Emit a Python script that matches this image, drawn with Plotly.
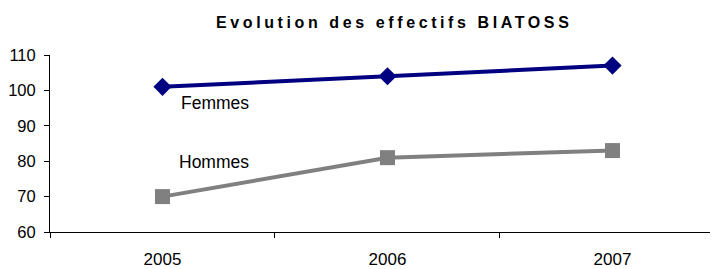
import plotly.graph_objects as go

years = ["2005", "2006", "2007"]
femmes = [101, 104, 107]
hommes = [70, 81, 83]
y_ticks = [60, 70, 80, 90, 100, 110]
title_text = "Evolution des effectifs BIATOSS"

FONT = "Liberation Sans, Arial, sans-serif"

fig = go.Figure()
fig.add_trace(go.Scatter(
    x=years, y=femmes, name="Femmes", mode="lines+markers",
    line=dict(color="#000080", width=4),
    marker=dict(symbol="diamond", size=14, color="#000080"),
))
fig.add_trace(go.Scatter(
    x=years, y=hommes, name="Hommes", mode="lines+markers",
    line=dict(color="#808080", width=4),
    marker=dict(symbol="square", size=15, color="#808080"),
))

fig.add_annotation(x=0, y=femmes[0], xref="x", yref="y", text="Femmes",
                   showarrow=False, xanchor="left", yanchor="middle",
                   xshift=16, yshift=-16, font=dict(family=FONT, size=17.5, color="#000"))
fig.add_annotation(x=0, y=hommes[0], xref="x", yref="y", text="Hommes",
                   showarrow=False, xanchor="left", yanchor="middle",
                   xshift=14, yshift=35, font=dict(family=FONT, size=17.5, color="#000"))

fig.update_layout(
    width=710, height=261,
    margin=dict(l=42, r=0, t=47, b=37),
    paper_bgcolor="white", plot_bgcolor="white",
    showlegend=False,
    title=dict(text="<b>" + title_text + "</b>", x=0.544, xanchor="center",
               y=0.946, yanchor="middle",
               font=dict(family=FONT, size=16, color="#000")),
    font=dict(family=FONT, size=16, color="#000"),
)
fig.update_xaxes(
    type="category", range=[-0.5, 2.469], tickson="boundaries",
    showline=True, linecolor="#000", linewidth=1,
    ticks="outside", ticklen=5, tickcolor="#000",
    showgrid=False, zeroline=False, ticklabelstandoff=12,
    tickfont=dict(size=17),
)
fig.update_yaxes(
    range=[60, 110], tickvals=y_ticks,
    showline=True, linecolor="#000", linewidth=1,
    ticks="outside", ticklen=5, tickcolor="#000",
    showgrid=False, zeroline=False, ticklabelstandoff=5,
    tickfont=dict(size=16.5),
)

post = "var t=document.querySelector('.gtitle'); if(t){t.style.letterSpacing='3.6px';}"
fig.write_html("out.html", post_script=post)
